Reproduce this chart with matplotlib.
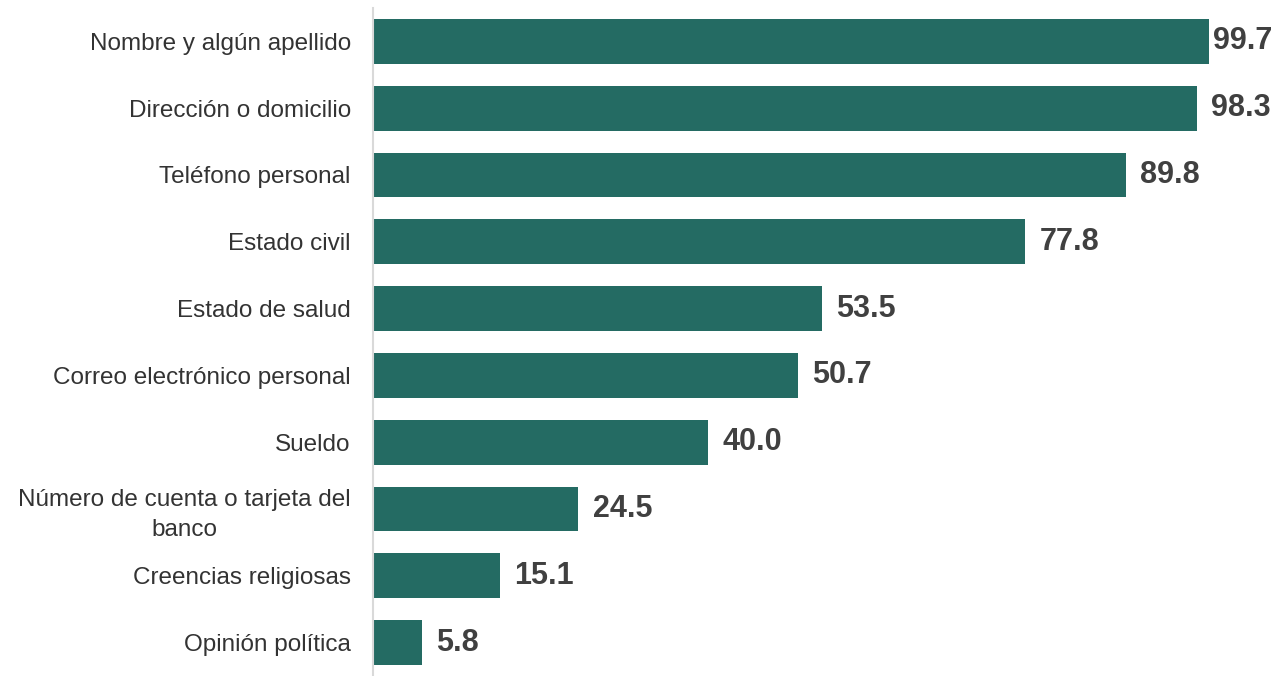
import matplotlib
matplotlib.use("Agg")
import matplotlib.pyplot as plt

# datos
categorias = [
    "Nombre y algún apellido",
    "Dirección o domicilio",
    "Teléfono personal",
    "Estado civil",
    "Estado de salud",
    "Correo electrónico personal",
    "Sueldo",
    "Número de cuenta o tarjeta del\nbanco",
    "Creencias religiosas",
    "Opinión política",
]
valores = [99.7, 98.3, 89.8, 77.8, 53.5, 50.7, 40.0, 24.5, 15.1, 5.8]

plt.rcParams["font.family"] = ["Liberation Sans", "DejaVu Sans"]

fig = plt.figure(figsize=(12.81, 6.76), dpi=100)
ax = fig.add_axes([373 / 1281, 0.0, 1 - 373 / 1281, 1 - 8 / 676])

pos = list(range(len(valores)))
ax.barh(pos, valores, height=0.67, color="#246b63")
ax.set_ylim(len(valores) - 0.5, -0.5)
ax.set_xlim(0, 108.3)

for p, v in zip(pos, valores):
    # la etiqueta del valor mas alto queda pegada a la barra (no cabe)
    x = min(v + 1.7, 100.2)
    ax.text(x, p, f"{v:.1f}", va="center", ha="left",
            fontsize=22, fontweight="bold", color="#404040")

ax.set_yticks(pos)
ax.set_yticklabels(categorias, fontsize=17.5, color="#333333")
for t in ax.get_yticklabels():
    t.set_multialignment("center")
    t.set_linespacing(1.45)
ax.tick_params(axis="y", length=0, pad=16)
ax.set_xticks([])

for s in ["top", "right", "bottom"]:
    ax.spines[s].set_visible(False)
ax.spines["left"].set_color("#d9d9d9")
ax.spines["left"].set_linewidth(1.5)

fig.savefig("out.png", dpi=100)
